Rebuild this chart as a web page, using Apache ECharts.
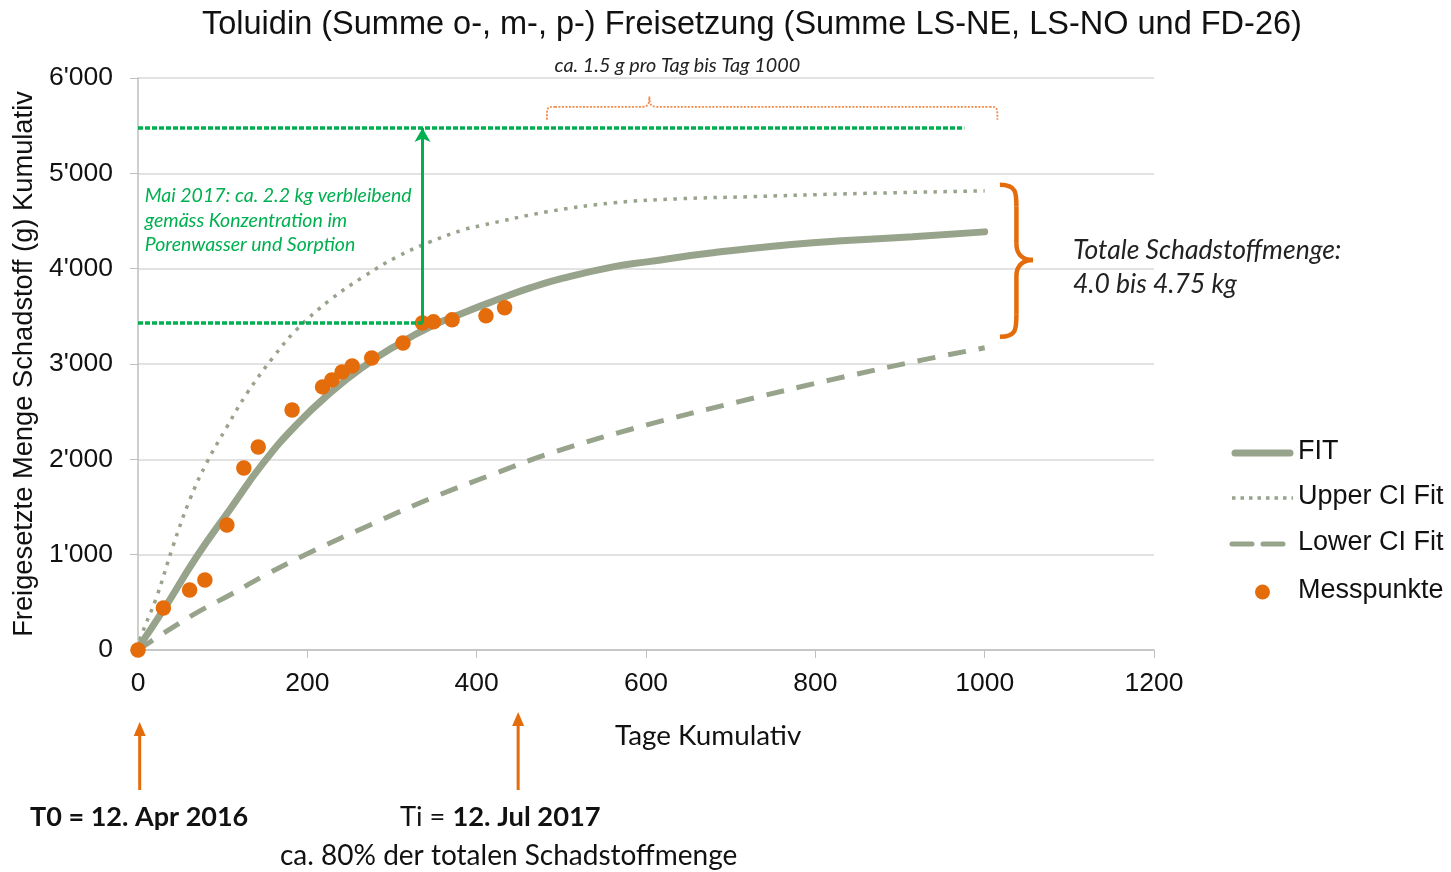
<!DOCTYPE html>
<html>
<head>
<meta charset="utf-8">
<script src="https://cdn.jsdelivr.net/npm/echarts@6/dist/echarts.min.js"></script>
<style>
  html, body { margin: 0; padding: 0; background: #fff; }
  #chart { width: 1451px; height: 872px; }
</style>
</head>
<body>
<div id="chart"></div>
<script>
// Messpunkte (Tage kumulativ / g kumulativ)
const messTage = [0, 30, 61, 79, 105, 125, 142, 182, 218, 229, 241, 253, 276, 313, 336, 349, 371, 411, 433];
const messWerte = [0, 441, 630, 735, 1312, 1910, 2130, 2518, 2760, 2833, 2917, 2980, 3064, 3221, 3431, 3442, 3463, 3505, 3589];

// FIT
const fitTage = [0, 30, 69, 109, 148, 187, 227, 266, 306, 345, 384, 424, 463, 502, 561, 601, 679, 797, 915, 1000];
const fitWerte = [20, 420, 976, 1480, 1962, 2361, 2697, 2970, 3200, 3389, 3536, 3673, 3798, 3900, 4019, 4071, 4166, 4271, 4334, 4386];

// Upper CI Fit
const upperTage = [0, 2, 22, 41, 61, 81, 105, 129, 160, 187, 227, 266, 306, 345, 384, 404, 483, 561, 640, 719, 837, 1000];
const upperWerte = [0, 105, 556, 1081, 1574, 1962, 2340, 2697, 3074, 3358, 3673, 3914, 4124, 4281, 4407, 4450, 4596, 4690, 4733, 4754, 4785, 4816];

// Lower CI Fit
const lowerTage = [0, 30, 69, 109, 148, 200, 276, 346, 417, 493, 601, 710, 818, 927, 1000];
const lowerWerte = [0, 175, 390, 580, 775, 1010, 1320, 1592, 1836, 2081, 2361, 2606, 2833, 3043, 3170];

// Achsen
const xTicks = [0, 200, 400, 600, 800, 1000, 1200];
const yTicks = [0, 1000, 2000, 3000, 4000, 5000, 6000];

// Annotationen (Werte)
const gesamtOben = 5475;      // obere gruene Linie
const stand = [336, 3431];    // Mai 2017
const gruenEnde = 976;
const t0Tag = 2, tiTag = 449;

const grau = '#98A38B';
const orange = '#E46C0A';
const gruen = '#00B050';
const arial = '"Liberation Sans", Arial, sans-serif';
const calibri = 'Lato, "Open Sans", sans-serif';

const pairs = (xs, ys) => xs.map((x, i) => [x, ys[i]]);
const tausender = v => String(v).replace(/\B(?=(\d{3})+(?!\d))/g, "'");

const chart = echarts.init(document.getElementById('chart'));

const option = {
  animation: false,
  title: {
    text: 'Toluidin (Summe o-, m-, p-) Freisetzung (Summe LS-NE, LS-NO und FD-26)',
    left: 197,
    top: 4,
    textStyle: { fontFamily: arial, fontSize: 32.5, fontWeight: 'normal', color: '#111' }
  },
  grid: { left: 138, right: 297, top: 78, bottom: 222, outerBoundsMode: 'none' },
  xAxis: {
    type: 'value',
    min: xTicks[0],
    max: xTicks[xTicks.length - 1],
    interval: 200,
    axisLine: { lineStyle: { color: '#BFBFBF', width: 1.5 } },
    axisTick: { show: true, length: 8, lineStyle: { color: '#BFBFBF' } },
    axisLabel: { fontFamily: arial, fontSize: 26.5, color: '#111', margin: 20, formatter: v => String(v) },
    splitLine: { show: false }
  },
  yAxis: {
    type: 'value',
    min: yTicks[0],
    max: yTicks[yTicks.length - 1],
    interval: 1000,
    name: 'Freigesetzte Menge Schadstoff (g) Kumulativ',
    nameLocation: 'middle',
    nameGap: 97,
    nameTextStyle: { fontFamily: arial, fontSize: 27.3, color: '#111' },
    axisLine: { show: true, lineStyle: { color: '#BFBFBF', width: 1.5 } },
    axisTick: { show: true, length: 8, lineStyle: { color: '#BFBFBF' } },
    axisLabel: { fontFamily: arial, fontSize: 26.5, color: '#111', margin: 25, formatter: tausender },
    splitLine: { lineStyle: { color: '#D9D9D9', width: 1.5 } }
  },
  series: [
    {
      name: 'FIT',
      type: 'line',
      data: pairs(fitTage, fitWerte),
      smooth: 0.5,
      symbol: 'none',
      lineStyle: { color: grau, width: 7, cap: 'round' },
      z: 2
    },
    {
      name: 'Upper CI Fit',
      type: 'line',
      data: pairs(upperTage, upperWerte),
      smooth: 0.4,
      symbol: 'none',
      lineStyle: { color: grau, width: 3.5, type: [3.5, 6.5] },
      z: 2
    },
    {
      name: 'Lower CI Fit',
      type: 'line',
      data: pairs(lowerTage, lowerWerte),
      smooth: 0.4,
      symbol: 'none',
      lineStyle: { color: grau, width: 5, type: [18, 13] },
      z: 2
    },
    {
      name: 'Messpunkte',
      type: 'scatter',
      data: pairs(messTage, messWerte),
      symbolSize: 15.5,
      itemStyle: { color: orange, opacity: 1 },
      z: 4
    },
    {
      type: 'line',
      data: [],
      z: 3,
      markLine: {
        silent: true,
        animation: false,
        label: { show: false },
        symbol: ['none', 'none'],
        lineStyle: { color: gruen, width: 3.5, type: [5, 2] },
        data: [
          [{ coord: [0, gesamtOben] }, { coord: [gruenEnde, gesamtOben] }],
          [{ coord: [0, stand[1]] }, { coord: [stand[0], stand[1]] }],
          [
            { coord: [stand[0], stand[1]], symbol: 'none', lineStyle: { type: 'solid', width: 3, color: gruen } },
            { coord: [stand[0], gesamtOben], symbol: 'arrow', symbolSize: [12, 14], lineStyle: { type: 'solid', width: 3, color: gruen } }
          ]
        ]
      }
    }
  ]
};

chart.setOption(option);

function px(x, y) {
  return chart.convertToPixel({ gridIndex: 0 }, [x, y]);
}

function bez(p1, c1, c2, p2, style) {
  return {
    type: 'bezierCurve',
    shape: { x1: p1[0], y1: p1[1], cpx1: c1[0], cpy1: c1[1], cpx2: c2[0], cpy2: c2[1], x2: p2[0], y2: p2[1] },
    style: Object.assign({ fill: 'none' }, style)
  };
}
function lin(p1, p2, style) {
  return { type: 'line', shape: { x1: p1[0], y1: p1[1], x2: p2[0], y2: p2[1] }, style: Object.assign({}, style) };
}

function zeichneAnnotationen() {
  const g = [];

  // geschweifte Klammer rechts (Totale Schadstoffmenge)
  const kTop = px(1018, 4880), kTip = px(1057, 4092), kBot = px(1018, 3285);
  const x0 = kTop[0], w = kTip[0] - kTop[0], xm = x0 + w * 0.5, ym = kTip[1];
  const y0 = kTop[1], y1 = kBot[1];
  const ks = { stroke: orange, lineWidth: 4.5 };
  g.push(bez([x0, y0], [xm, y0], [xm, y0 + 8], [xm, y0 + 22], ks));
  g.push(lin([xm, y0 + 22], [xm, ym - 16], ks));
  g.push(bez([xm, ym - 16], [xm, ym - 4], [x0 + w * 0.75, ym], [x0 + w, ym], ks));
  g.push(bez([x0 + w, ym], [x0 + w * 0.75, ym], [xm, ym + 4], [xm, ym + 16], ks));
  g.push(lin([xm, ym + 16], [xm, y1 - 22], ks));
  g.push(bez([xm, y1 - 22], [xm, y1 - 8], [xm, y1], [x0, y1], ks));
  g.push({
    type: 'text',
    left: kTip[0] + 40,
    top: ym - 26,
    style: {
      text: 'Totale Schadstoffmenge:\n4.0 bis 4.75 kg',
      font: `italic 26.5px ${calibri}`,
      lineHeight: 34,
      fill: '#222'
    }
  });

  // gepunktete Klammer oben
  const bl = px(483, 5562), br = px(1015, 5562), bt = px(604, 5803), bh = px(0, 5698)[1];
  const ds = { stroke: '#F08A4B', lineWidth: 1.8, lineDash: [2, 1.5] };
  g.push(bez([bl[0], bl[1]], [bl[0], bh], [bl[0], bh], [bl[0] + 8, bh], ds));
  g.push(lin([bl[0] + 8, bh], [bt[0] - 7, bh], ds));
  g.push(bez([bt[0] - 7, bh], [bt[0] - 2, bh], [bt[0], bh - 2], [bt[0], bt[1]], ds));
  g.push(bez([bt[0], bt[1]], [bt[0], bh - 2], [bt[0] + 2, bh], [bt[0] + 7, bh], ds));
  g.push(lin([bt[0] + 7, bh], [br[0] - 8, bh], ds));
  g.push(bez([br[0] - 8, bh], [br[0], bh], [br[0], bh], [br[0], br[1]], ds));
  const tt = px(492, 6128);
  g.push({
    type: 'text',
    left: tt[0],
    top: tt[1] - 10,
    style: { text: 'ca. 1.5 g pro Tag bis Tag 1000', font: `italic 19.8px ${calibri}`, fill: '#222' }
  });

  // gruener Text
  const gt = px(8, 4890);
  g.push({
    type: 'text',
    left: gt[0],
    top: gt[1],
    style: {
      text: 'Mai 2017: ca. 2.2 kg verbleibend\ngemäss Konzentration im\nPorenwasser und Sorption',
      font: `italic 19.5px ${calibri}`,
      lineHeight: 24.5,
      fill: gruen
    }
  });

  // Legende
  const lx0 = 1232, lx1 = 1293, tx = 1298;
  const rows = [453, 498, 544, 592];
  g.push(lin([lx0 + 3, rows[0]], [lx1 - 3, rows[0]], { stroke: grau, lineWidth: 7, lineCap: 'round' }));
  g.push(lin([lx0, rows[1]], [lx1, rows[1]], { stroke: grau, lineWidth: 3.5, lineDash: [3.5, 5] }));
  g.push(lin([lx0, rows[2]], [lx1, rows[2]], { stroke: grau, lineWidth: 5, lineDash: [20, 11], lineCap: 'round' }));
  g.push({ type: 'circle', shape: { cx: (lx0 + lx1) / 2, cy: rows[3], r: 7.5 }, style: { fill: orange } });
  ['FIT', 'Upper CI Fit', 'Lower CI Fit', 'Messpunkte'].forEach((t, i) => {
    g.push({
      type: 'text', left: tx, top: rows[i] - 15,
      style: { text: t, font: `27px ${arial}`, fill: '#111' }
    });
  });

  // x-Achsentitel
  g.push({
    type: 'text', left: 615, top: 722,
    style: { text: 'Tage Kumulativ', font: `27.8px ${calibri}`, fill: '#111' }
  });

  // orange Pfeile unter der Achse
  [[t0Tag, 722], [tiTag, 712]].forEach(([tag, spitze]) => {
    const x = px(tag, 0)[0];
    g.push(lin([x, 790], [x, spitze + 12], { stroke: orange, lineWidth: 3 }));
    g.push({ type: 'polygon', shape: { points: [[x - 6, spitze + 14], [x + 6, spitze + 14], [x, spitze]] }, style: { fill: orange } });
  });

  g.push({
    type: 'text', left: 30, top: 804,
    style: { text: 'T0 = 12. Apr 2016', font: `bold 27px ${calibri}`, fill: '#111' }
  });
  g.push({
    type: 'text', left: 400, top: 804,
    style: {
      text: '{n|Ti = }{b|12. Jul 2017}',
      rich: {
        n: { font: `27.3px ${calibri}`, fill: '#111' },
        b: { font: `bold 27.3px ${calibri}`, fill: '#111' }
      }
    }
  });
  g.push({
    type: 'text', left: 280, top: 842,
    style: { text: 'ca. 80% der totalen Schadstoffmenge', font: `28px ${calibri}`, fill: '#111' }
  });

  chart.setOption({ graphic: g });
}

zeichneAnnotationen();
</script>
</body>
</html>
